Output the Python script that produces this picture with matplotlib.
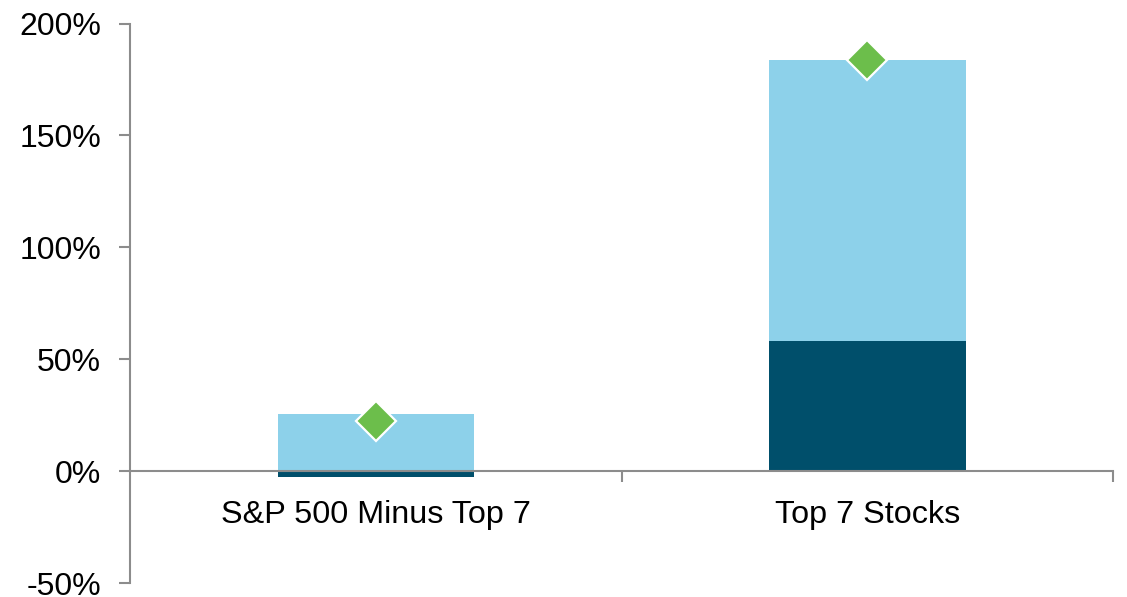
import matplotlib
matplotlib.use("Agg")
import matplotlib.pyplot as plt
from matplotlib.ticker import FuncFormatter
import numpy as np

categories = ["S&P 500 Minus Top 7", "Top 7 Stocks"]
dark_part = [-2.6, 58.3]
light_part = [25.5, 125.4]
total_marker = [22.4, 183.5]
yticks = [-50, 0, 50, 100, 150, 200]

plt.rcParams['font.family'] = ['Liberation Sans', 'DejaVu Sans']

fig = plt.figure(figsize=(11.27, 5.97), dpi=100)
ax = fig.add_axes([0.1154, 0.0230, 0.9876 - 0.1154, 0.9606 - 0.0230])

x = np.arange(len(categories))
dark_c = '#004F6B'
light_c = '#8DD1EA'
green_c = '#6CBE4B'
axis_c = '#8C8C8C'

ax.bar(x, dark_part, width=0.4, color=dark_c, zorder=1)
light_bottom = [max(d, 0) for d in dark_part]
ax.bar(x, light_part, bottom=light_bottom, width=0.4, color=light_c, zorder=1)
ax.plot(x, total_marker, linestyle='none', marker='D', markersize=20,
        markerfacecolor=green_c, markeredgecolor='white', markeredgewidth=1.6, zorder=4)

ax.set_xlim(-0.5, 1.5)
ax.set_ylim(-50, 200)
ax.set_yticks(yticks)
ax.yaxis.set_major_formatter(FuncFormatter(lambda v, p: f"{v:.0f}%"))

for s in ['top', 'right']:
    ax.spines[s].set_visible(False)
ax.spines['bottom'].set_position(('data', 0))
ax.spines['bottom'].set_color(axis_c)
ax.spines['left'].set_color(axis_c)
ax.spines['bottom'].set_linewidth(1.5)
ax.spines['left'].set_linewidth(1.5)
ax.spines['bottom'].set_zorder(2.5)

ax.set_xticks([0.5, 1.5], minor=False)
ax.set_xticklabels([])
ax.set_xticks(x, minor=True)
ax.set_xticklabels(categories, minor=True, fontsize=23.3)
ax.tick_params(axis='x', which='major', direction='out', length=8, width=1.5, color=axis_c)
ax.tick_params(axis='x', which='minor', length=0, pad=21)
ax.tick_params(axis='y', direction='out', length=8, width=1.5, color=axis_c, labelsize=23, pad=13)

fig.savefig('out.png', dpi=100, facecolor='white')
